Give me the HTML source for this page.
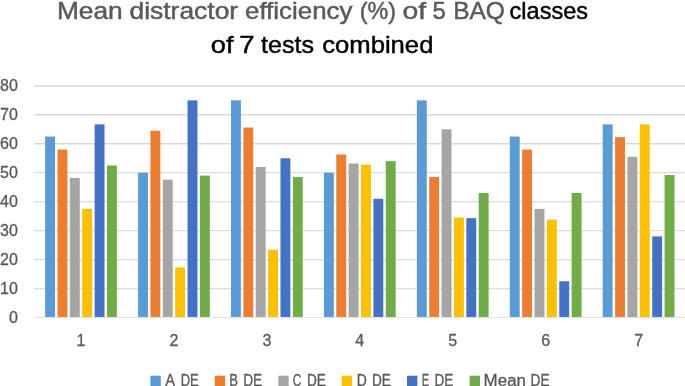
<!DOCTYPE html>
<html lang="en"><head><meta charset="utf-8"><title>Mean distractor efficiency chart</title>
<style>html,body{margin:0;padding:0;background:#fff;overflow:hidden}svg{display:block}text{font-family:"Liberation Sans",sans-serif}</style></head><body>
<svg width="685" height="386" viewBox="0 0 685 386">
<rect width="685" height="386" fill="#fff"/>
<g font-size="24.5" stroke-width="0.45">
<text x="56.92" y="19.3" fill="#595959" stroke="#595959" textLength="65.77" lengthAdjust="spacingAndGlyphs">Mean</text>
<text x="129.49" y="19.3" fill="#595959" stroke="#595959" textLength="108.70" lengthAdjust="spacingAndGlyphs">distractor</text>
<text x="245.01" y="19.3" fill="#595959" stroke="#595959" textLength="107.46" lengthAdjust="spacingAndGlyphs">efficiency</text>
<text x="359.81" y="19.3" fill="#595959" stroke="#595959" textLength="36.28" lengthAdjust="spacingAndGlyphs">(%)</text>
<text x="402.63" y="19.3" fill="#595959" stroke="#595959" textLength="23.61" lengthAdjust="spacingAndGlyphs">of</text>
<text x="432.57" y="19.3" fill="#595959" stroke="#595959" textLength="13.30" lengthAdjust="spacingAndGlyphs">5</text>
<text x="453.15" y="19.3" fill="#595959" stroke="#595959" textLength="51.75" lengthAdjust="spacingAndGlyphs">BAQ</text>
<text x="509.58" y="19.3" fill="#000" stroke="#000" textLength="78.39" lengthAdjust="spacingAndGlyphs">classes</text>
<text x="210.77" y="53.3" fill="#000" stroke="#000" textLength="22.69" lengthAdjust="spacingAndGlyphs">of</text>
<text x="239.38" y="53.3" fill="#000" stroke="#000" textLength="15.30" lengthAdjust="spacingAndGlyphs">7</text>
<text x="261.04" y="53.3" fill="#000" stroke="#000" textLength="52.92" lengthAdjust="spacingAndGlyphs">tests</text>
<text x="322.22" y="53.3" fill="#000" stroke="#000" textLength="111.18" lengthAdjust="spacingAndGlyphs">combined</text>
</g>
<g stroke="#D9D9D9" stroke-width="1.5">
<line x1="34.1" x2="685" y1="288.50" y2="288.50" stroke="#D8DCE9" stroke-width="1.25"/>
<line x1="34.1" x2="685" y1="259.56" y2="259.56" stroke="#D8DCE9" stroke-width="1.25"/>
<line x1="34.1" x2="685" y1="230.62" y2="230.62" stroke="#D8DCE9" stroke-width="1.25"/>
<line x1="34.1" x2="685" y1="201.67" y2="201.67" stroke="#D8DCE9" stroke-width="1.25"/>
<line x1="34.1" x2="685" y1="172.72" y2="172.72" stroke="#D8DCE9" stroke-width="1.25"/>
<line x1="34.1" x2="685" y1="143.78" y2="143.78"/>
<line x1="34.1" x2="685" y1="114.84" y2="114.84"/>
<line x1="34.1" x2="685" y1="85.89" y2="85.89"/>
<line x1="34.1" x2="685" y1="317.45" y2="317.45" stroke="#D8DCE9" stroke-width="0.9"/>
</g>
<g font-size="16" fill="#595959" stroke="#595959" stroke-width="0.3" text-anchor="end">
<text x="17.8" y="323.05">0</text>
<text x="17.8" y="294.11">10</text>
<text x="17.8" y="265.16">20</text>
<text x="17.8" y="236.22">30</text>
<text x="17.8" y="207.27">40</text>
<text x="17.8" y="178.32">50</text>
<text x="17.8" y="149.38">60</text>
<text x="17.8" y="120.44">70</text>
<text x="17.8" y="91.49">80</text>
</g>
<g>
<rect x="45.14" y="136.54" width="9.9" height="180.41" fill="#5B9BD5"/>
<rect x="57.51" y="149.57" width="9.9" height="167.38" fill="#ED7D31"/>
<rect x="69.88" y="177.94" width="9.9" height="139.01" fill="#A5A5A5"/>
<rect x="82.25" y="208.91" width="9.9" height="108.04" fill="#FFC000"/>
<rect x="94.62" y="124.39" width="9.9" height="192.56" fill="#4472C4"/>
<rect x="106.99" y="165.49" width="9.9" height="151.46" fill="#70AD47"/>
</g>
<g>
<rect x="138.07" y="172.72" width="9.9" height="144.22" fill="#5B9BD5"/>
<rect x="150.44" y="130.75" width="9.9" height="186.20" fill="#ED7D31"/>
<rect x="162.81" y="179.67" width="9.9" height="137.28" fill="#A5A5A5"/>
<rect x="175.18" y="267.38" width="9.9" height="49.57" fill="#FFC000"/>
<rect x="187.55" y="100.36" width="9.9" height="216.59" fill="#4472C4"/>
<rect x="199.92" y="175.62" width="9.9" height="141.33" fill="#70AD47"/>
</g>
<g>
<rect x="231.00" y="100.36" width="9.9" height="216.59" fill="#5B9BD5"/>
<rect x="243.37" y="127.57" width="9.9" height="189.38" fill="#ED7D31"/>
<rect x="255.74" y="166.94" width="9.9" height="150.01" fill="#A5A5A5"/>
<rect x="268.11" y="249.72" width="9.9" height="67.23" fill="#FFC000"/>
<rect x="280.48" y="158.25" width="9.9" height="158.70" fill="#4472C4"/>
<rect x="292.85" y="177.07" width="9.9" height="139.88" fill="#70AD47"/>
</g>
<g>
<rect x="323.93" y="172.72" width="9.9" height="144.22" fill="#5B9BD5"/>
<rect x="336.30" y="154.49" width="9.9" height="162.46" fill="#ED7D31"/>
<rect x="348.67" y="163.46" width="9.9" height="153.49" fill="#A5A5A5"/>
<rect x="361.04" y="164.62" width="9.9" height="152.33" fill="#FFC000"/>
<rect x="373.41" y="198.78" width="9.9" height="118.17" fill="#4472C4"/>
<rect x="385.78" y="161.15" width="9.9" height="155.80" fill="#70AD47"/>
</g>
<g>
<rect x="416.86" y="100.36" width="9.9" height="216.59" fill="#5B9BD5"/>
<rect x="429.23" y="177.07" width="9.9" height="139.88" fill="#ED7D31"/>
<rect x="441.60" y="129.31" width="9.9" height="187.64" fill="#A5A5A5"/>
<rect x="453.97" y="217.59" width="9.9" height="99.36" fill="#FFC000"/>
<rect x="466.34" y="218.17" width="9.9" height="98.78" fill="#4472C4"/>
<rect x="478.71" y="192.99" width="9.9" height="123.96" fill="#70AD47"/>
</g>
<g>
<rect x="509.79" y="136.54" width="9.9" height="180.41" fill="#5B9BD5"/>
<rect x="522.16" y="149.57" width="9.9" height="167.38" fill="#ED7D31"/>
<rect x="534.53" y="208.91" width="9.9" height="108.04" fill="#A5A5A5"/>
<rect x="546.90" y="219.62" width="9.9" height="97.33" fill="#FFC000"/>
<rect x="559.27" y="281.27" width="9.9" height="35.68" fill="#4472C4"/>
<rect x="571.64" y="192.99" width="9.9" height="123.96" fill="#70AD47"/>
</g>
<g>
<rect x="602.72" y="124.39" width="9.9" height="192.56" fill="#5B9BD5"/>
<rect x="615.09" y="137.12" width="9.9" height="179.83" fill="#ED7D31"/>
<rect x="627.46" y="156.81" width="9.9" height="160.14" fill="#A5A5A5"/>
<rect x="639.83" y="124.39" width="9.9" height="192.56" fill="#FFC000"/>
<rect x="652.20" y="236.40" width="9.9" height="80.55" fill="#4472C4"/>
<rect x="664.57" y="175.04" width="9.9" height="141.91" fill="#70AD47"/>
</g>
<g font-size="16" fill="#595959" stroke="#595959" stroke-width="0.3" text-anchor="middle">
<text x="81.02" y="345.5">1</text>
<text x="173.94" y="345.5">2</text>
<text x="266.88" y="345.5">3</text>
<text x="359.81" y="345.5">4</text>
<text x="452.74" y="345.5">5</text>
<text x="545.66" y="345.5">6</text>
<text x="638.60" y="345.5">7</text>
</g>
<g font-size="15.6" fill="#595959" stroke="#595959" stroke-width="0.3">
<rect x="150.4" y="375.7" width="10.4" height="10.4" fill="#5B9BD5" stroke="none"/>
<text x="165.30" y="385.6" textLength="9.81" lengthAdjust="spacingAndGlyphs">A</text>
<text x="180.76" y="385.6" textLength="17.99" lengthAdjust="spacingAndGlyphs">DE</text>
<rect x="214.8" y="375.7" width="10.4" height="10.4" fill="#ED7D31" stroke="none"/>
<text x="229.16" y="385.6" textLength="8.69" lengthAdjust="spacingAndGlyphs">B</text>
<text x="243.20" y="385.6" textLength="19.07" lengthAdjust="spacingAndGlyphs">DE</text>
<rect x="278.3" y="375.7" width="10.4" height="10.4" fill="#A5A5A5" stroke="none"/>
<text x="292.63" y="385.6" textLength="8.56" lengthAdjust="spacingAndGlyphs">C</text>
<text x="306.91" y="385.6" textLength="18.96" lengthAdjust="spacingAndGlyphs">DE</text>
<rect x="341.7" y="375.7" width="10.4" height="10.4" fill="#FFC000" stroke="none"/>
<text x="356.68" y="385.6" textLength="10.08" lengthAdjust="spacingAndGlyphs">D</text>
<text x="371.91" y="385.6" textLength="18.96" lengthAdjust="spacingAndGlyphs">DE</text>
<rect x="407.0" y="375.7" width="10.4" height="10.4" fill="#4472C4" stroke="none"/>
<text x="421.81" y="385.6" textLength="7.37" lengthAdjust="spacingAndGlyphs">E</text>
<text x="434.51" y="385.6" textLength="18.96" lengthAdjust="spacingAndGlyphs">DE</text>
<rect x="469.6" y="375.7" width="10.4" height="10.4" fill="#70AD47" stroke="none"/>
<text x="483.64" y="385.6" textLength="42.36" lengthAdjust="spacingAndGlyphs">Mean</text>
<text x="530.61" y="385.6" textLength="18.96" lengthAdjust="spacingAndGlyphs">DE</text>
</g>
</svg></body></html>
